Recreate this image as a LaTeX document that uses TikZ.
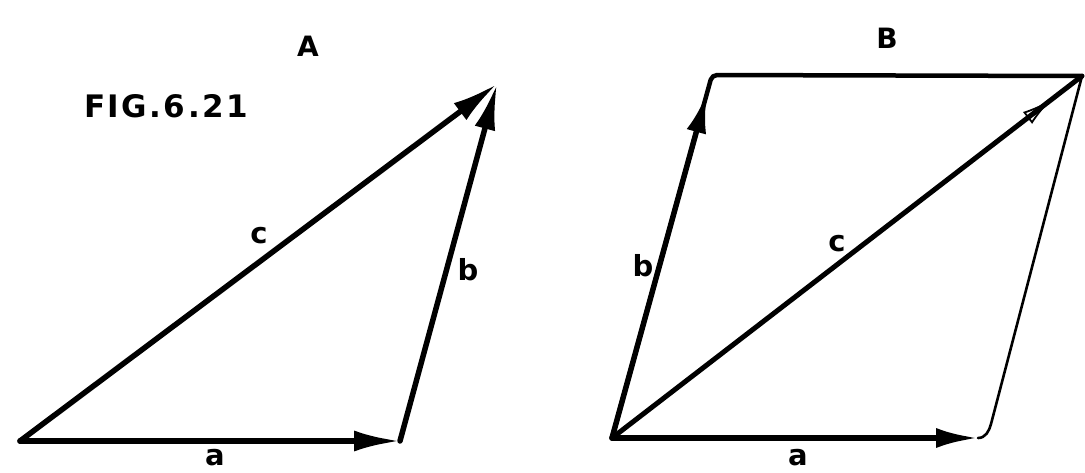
\documentclass[tikz,border=0pt]{standalone}
\usepackage{fontspec}
\setmainfont{DejaVu Sans}
\usetikzlibrary{arrows.meta,calc,decorations.markings}
\begin{document}
\begin{tikzpicture}[x=1pt,y=-1pt,
  vec/.style={line width=5.5pt,line cap=round,-{Latex[length=46pt,width=21pt]}},
  thick line/.style={line width=5pt,line cap=round},
  thin line/.style={line width=2.6pt,line cap=round},
  lbl/.style={font=\bfseries\fontsize{29}{29}\selectfont,inner sep=1pt},
  ttl/.style={font=\bfseries\fontsize{28}{28}\selectfont,inner sep=1pt}]
\useasboundingbox (0,0) rectangle (1085,472);
% Panel A
\coordinate (OA) at (20,441);
\coordinate (AA) at (400,441);
\coordinate (TA) at (497,84);
\draw[vec] (OA) -- (AA);
\draw[vec] (AA) -- (TA);
\draw[vec] (OA) -- (TA);
\node[lbl] (la) at (215,458) {a};
\node[lbl] (lc) at (259,236) {c};
\node[lbl] (lb) at (468,270) {b};
\node[ttl] (tA) at (308,46) {A};
\node[ttl,font=\bfseries\fontsize{31}{31}\selectfont\addfontfeature{LetterSpace=8}] (fig) at (166,106) {FIG.6.21};
% Panel B
\coordinate (OB) at (612,438);
\coordinate (AB) at (978,438);
\coordinate (RB) at (991,424);
\coordinate (TL) at (712,75);
\coordinate (TR) at (1082,76);
\coordinate (bB) at ($(OB)!0.95!(TL)$);
\draw[thin line] (AB) to[out=0,in=-105] (RB) -- (TR);
\draw[line width=4.5pt,line cap=round,rounded corners=5pt] (OB) -- (TL) -- (TR);
\draw[vec,-{Latex[length=40pt,width=20pt]}] (OB) -- (bB);
\draw[vec,-{Latex[length=42pt,width=20pt]}] (OB) -- (AB);
\draw[line width=5pt,line cap=round,
  decoration={markings,mark=at position 0.935 with {\arrow{Latex[open,length=30pt,width=15pt,line width=1.8pt]}}},postaction={decorate}] (OB) -- (TR);
\node[lbl] (lbb) at (643,266) {b};
\node[lbl] (lcb) at (837,244) {c};
\node[lbl] (lab) at (798,458) {a};
\node[ttl] (tB) at (887,38) {B};
\end{tikzpicture}
\end{document}
